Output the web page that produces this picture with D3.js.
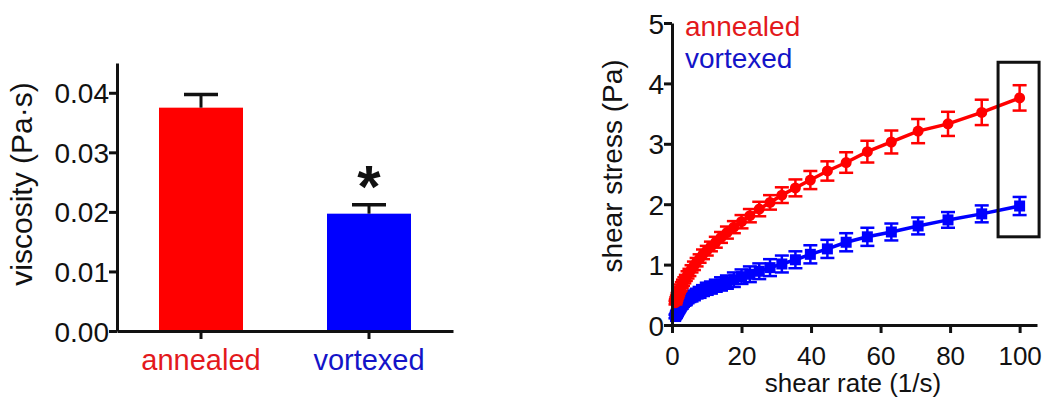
<!DOCTYPE html>
<html>
<head>
<meta charset="utf-8">
<script src="https://cdn.jsdelivr.net/npm/d3@7"></script>
<style>
  body { margin: 0; background: #fff; }
  svg text { font-family: "Liberation Sans", Arial, sans-serif; fill: #111; }
  .axis path, .axis line { stroke: #111; stroke-width: 3px; }
  .axis text { font-size: 28px; }
</style>
</head>
<body>
<div id="chart"></div>
<script>
// left panel: viscosity bars
const categories = ["annealed", "vortexed"];
const viscosity = [0.0375, 0.0197];
const viscosityErr = [0.0022, 0.0015];
const catColors = ["#ff0000", "#0000ff"];
const catTextColors = ["#e3191c", "#1414c8"];
const viscTicks = [0, 0.01, 0.02, 0.03, 0.04];

// right panel: shear stress vs shear rate
const shearRate = [1, 1.12, 1.26, 1.41, 1.58, 1.78, 2.0, 2.24, 2.51, 2.82, 3.16, 3.55, 3.98, 4.47,
    5.01, 5.62, 6.31, 7.08, 7.94, 8.91, 10, 11.2, 12.6, 14.1, 15.8, 17.8, 20, 22.4, 25.1, 28.2,
    31.6, 35.5, 39.8, 44.7, 50.1, 56.2, 63.1, 70.8, 79.4, 89.1, 100];
const stressAnnealed = [0.37, 0.40, 0.43, 0.46, 0.49, 0.52, 0.56, 0.59, 0.62, 0.66, 0.70, 0.74, 0.78, 0.83,
    0.87, 0.93, 0.98, 1.04, 1.10, 1.17, 1.23, 1.30, 1.37, 1.45, 1.53, 1.62, 1.71, 1.81, 1.92, 2.03,
    2.15, 2.27, 2.40, 2.55, 2.69, 2.87, 3.03, 3.21, 3.33, 3.52, 3.76];
const errAnnealed = [0.03, 0.03, 0.03, 0.03, 0.04, 0.04, 0.04, 0.04, 0.05, 0.05, 0.05, 0.05, 0.05, 0.06,
    0.06, 0.06, 0.07, 0.07, 0.07, 0.08, 0.08, 0.08, 0.09, 0.09, 0.10, 0.10, 0.11, 0.11, 0.12, 0.12,
    0.13, 0.14, 0.15, 0.16, 0.17, 0.18, 0.19, 0.20, 0.20, 0.21, 0.21];
const stressVortexed = [0.14, 0.15, 0.17, 0.19, 0.21, 0.23, 0.26, 0.28, 0.31, 0.33, 0.36, 0.38, 0.40, 0.43,
    0.45, 0.47, 0.49, 0.52, 0.54, 0.57, 0.60, 0.62, 0.65, 0.68, 0.71, 0.75, 0.80, 0.84, 0.89, 0.95,
    1.01, 1.08, 1.17, 1.26, 1.37, 1.46, 1.54, 1.64, 1.74, 1.84, 1.97];
const errVortexed = [0.03, 0.03, 0.03, 0.04, 0.04, 0.04, 0.05, 0.05, 0.05, 0.06, 0.06, 0.06, 0.07, 0.07,
    0.07, 0.08, 0.08, 0.08, 0.09, 0.09, 0.10, 0.10, 0.10, 0.11, 0.11, 0.12, 0.12, 0.13, 0.13, 0.14,
    0.14, 0.14, 0.15, 0.15, 0.15, 0.15, 0.14, 0.14, 0.13, 0.14, 0.15];
const rateTicks = [0, 20, 40, 60, 80, 100];
const stressTicks = [0, 1, 2, 3, 4, 5];
// boxed region around the last point: [rate from, rate to, stress from, stress to]
const highlight = [93.8, 105.6, 1.46, 4.35];

const svg = d3.select("#chart").append("svg")
    .attr("width", 1043)
    .attr("height", 400);

// ---------- left panel ----------
let x1 = d3.scaleBand()
    .domain(categories)
    .range([117, 453])
    .paddingInner(0.5)
    .paddingOuter(0.25);

let y1 = d3.scaleLinear()
    .domain([0, 0.045])
    .range([331, 63]);

let left = svg.append("g");

left.selectAll("rect.bar")
    .data(categories)
    .enter().append("rect")
    .attr("class", "bar")
    .attr("x", d => x1(d))
    .attr("width", x1.bandwidth())
    .attr("y", (d, i) => y1(viscosity[i]))
    .attr("height", (d, i) => y1(0) - y1(viscosity[i]))
    .style("fill", (d, i) => catColors[i]);

// error bars (upper only)
left.selectAll("line.err")
    .data(categories)
    .enter().append("line")
    .attr("x1", d => x1(d) + x1.bandwidth() / 2)
    .attr("x2", d => x1(d) + x1.bandwidth() / 2)
    .attr("y1", (d, i) => y1(viscosity[i]))
    .attr("y2", (d, i) => y1(viscosity[i] + viscosityErr[i]))
    .style("stroke", "#111").style("stroke-width", "3px");

left.selectAll("line.cap")
    .data(categories)
    .enter().append("line")
    .attr("x1", d => x1(d) + x1.bandwidth() / 2 - 17)
    .attr("x2", d => x1(d) + x1.bandwidth() / 2 + 17)
    .attr("y1", (d, i) => y1(viscosity[i] + viscosityErr[i]))
    .attr("y2", (d, i) => y1(viscosity[i] + viscosityErr[i]))
    .style("stroke", "#111").style("stroke-width", "3.5px");

// significance star over vortexed
left.append("text")
    .attr("x", x1("vortexed") + x1.bandwidth() / 2)
    .attr("y", y1(viscosity[1] + viscosityErr[1]) + 2)
    .attr("text-anchor", "middle")
    .style("font-size", "60px")
    .style("font-weight", "bold")
    .text("*");

let xAxis1 = left.append("g")
    .attr("class", "axis")
    .attr("transform", `translate(0,${y1(0)})`)
    .call(d3.axisBottom(x1).tickSize(8).tickSizeOuter(0));
xAxis1.selectAll("text")
    .attr("dy", "0.98em")
    .style("font-size", "29px")
    .style("fill", (d, i) => catTextColors[i]);

left.append("g")
    .attr("class", "axis")
    .attr("transform", `translate(${x1.range()[0]},0)`)
    .call(d3.axisLeft(y1).tickValues(viscTicks).tickFormat(d3.format(".2f")).tickSize(8).tickSizeOuter(0))
    .selectAll("text").attr("dx", "3px").attr("dy", "0.36em");

left.append("text")
    .attr("transform", "translate(32,184) rotate(-90)")
    .attr("text-anchor", "middle")
    .style("font-size", "30px")
    .text("viscosity (Pa·s)");

// ---------- right panel ----------
let x2 = d3.scaleLinear()
    .domain([0, 105])
    .range([672, 1037]);

let y2 = d3.scaleLinear()
    .domain([0, 5])
    .range([325, 23]);

let right = svg.append("g");

let series = [
    {name: "annealed", y: stressAnnealed, err: errAnnealed, color: "#ff0000", shape: "circle"},
    {name: "vortexed", y: stressVortexed, err: errVortexed, color: "#0000ff", shape: "square"}
];

let line = d3.line()
    .x(d => x2(d[0]))
    .y(d => y2(d[1]));

// draw vortexed first so annealed sits on top
series.slice().reverse().forEach(s => {
    let pts = shearRate.map((r, i) => [r, s.y[i], s.err[i]]);
    let g = right.append("g");

    g.append("path")
        .datum(pts)
        .attr("d", line)
        .style("fill", "none")
        .style("stroke", s.color)
        .style("stroke-width", "3.5px");

    g.selectAll("line.ev")
        .data(pts)
        .enter().append("line")
        .attr("x1", d => x2(d[0])).attr("x2", d => x2(d[0]))
        .attr("y1", d => y2(d[1] - d[2])).attr("y2", d => y2(d[1] + d[2]))
        .style("stroke", s.color).style("stroke-width", "2.5px");

    [-1, 1].forEach(sign => {
        g.selectAll("line.ec" + sign)
            .data(pts)
            .enter().append("line")
            .attr("x1", d => x2(d[0]) - 7).attr("x2", d => x2(d[0]) + 7)
            .attr("y1", d => y2(d[1] + sign * d[2])).attr("y2", d => y2(d[1] + sign * d[2]))
            .style("stroke", s.color).style("stroke-width", "2.5px");
    });

    if (s.shape === "circle") {
        g.selectAll("circle")
            .data(pts)
            .enter().append("circle")
            .attr("cx", d => x2(d[0]))
            .attr("cy", d => y2(d[1]))
            .attr("r", 5.5)
            .style("fill", s.color);
    } else {
        g.selectAll("rect")
            .data(pts)
            .enter().append("rect")
            .attr("x", d => x2(d[0]) - 5.5)
            .attr("y", d => y2(d[1]) - 5.5)
            .attr("width", 11).attr("height", 11)
            .style("fill", s.color);
    }
});

right.append("rect")
    .attr("x", x2(highlight[0]))
    .attr("y", y2(highlight[3]))
    .attr("width", x2(highlight[1]) - x2(highlight[0]))
    .attr("height", y2(highlight[2]) - y2(highlight[3]))
    .style("fill", "none")
    .style("stroke", "#111")
    .style("stroke-width", "3px");

right.append("g")
    .attr("class", "axis")
    .attr("transform", `translate(0,${y2(0)})`)
    .call(d3.axisBottom(x2).tickValues(rateTicks).tickSize(8).tickSizeOuter(0))
    .selectAll("text")
    .style("font-size", "26px")
    .attr("dy", "1.1em");

right.append("g")
    .attr("class", "axis")
    .attr("transform", `translate(${x2(0)},0)`)
    .call(d3.axisLeft(y2).tickValues(stressTicks).tickFormat(d3.format("d")).tickSize(8).tickSizeOuter(0))
    .selectAll("text").attr("dx", "3px").attr("dy", "0.36em");

right.append("text")
    .attr("x", 853)
    .attr("y", 392)
    .attr("text-anchor", "middle")
    .style("font-size", "26px")
    .text("shear rate (1/s)");

right.append("text")
    .attr("transform", "translate(622,166) rotate(-90)")
    .attr("text-anchor", "middle")
    .style("font-size", "28px")
    .text("shear stress (Pa)");

// legend
series.forEach((s, i) => {
    right.append("text")
        .attr("x", 685)
        .attr("y", 36 + i * 32)
        .style("font-size", "28px")
        .style("fill", catTextColors[i])
        .text(s.name);
});
</script>
</body>
</html>
